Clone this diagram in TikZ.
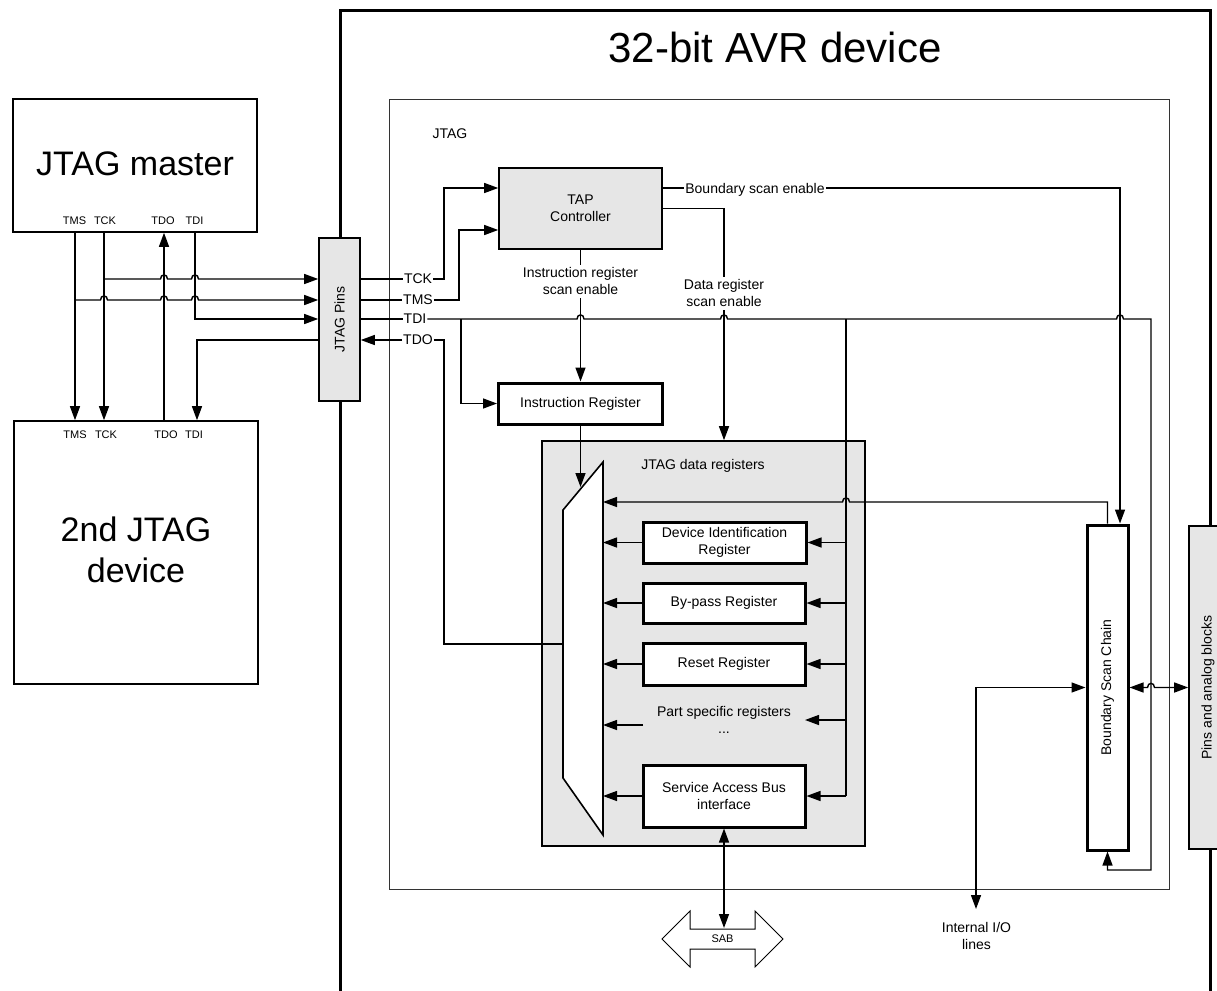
\documentclass[tikz,border=0pt]{standalone}
\usepackage{fontspec}
\setmainfont{Liberation Sans}
\usetikzlibrary{arrows.meta}
\definecolor{boxgray}{RGB}{230,230,230}
\newcommand\jumpR[2]{-- ({#1-3.5},{#2}) .. controls ({#1-3.5},{#2-5.5}) and ({#1+3.5},{#2-5.5}) .. ({#1+3.5},{#2})}
\newcommand\jumpL[2]{-- ({#1+3.5},{#2}) .. controls ({#1+3.5},{#2-5.5}) and ({#1-3.5},{#2-5.5}) .. ({#1-3.5},{#2})}
\tikzset{
  wire/.style={line width=1.4pt},
  arr/.style={wire, -{Triangle[length=14pt,width=10pt]}},
  darr/.style={wire, {Triangle[length=14pt,width=10pt]}-{Triangle[length=14pt,width=10pt]}},
  sz/.style 2 args={minimum width=#1pt, minimum height=#2pt},
  blk/.style={draw, line width=1.6pt, inner sep=0pt},
  gblk/.style={blk, fill=boxgray},
  reg/.style={draw, line width=3pt, fill=white, inner sep=0pt, align=center, font=\fontsize{14}{17}\selectfont},
  t14/.style={font=\fontsize{14}{17}\selectfont, inner sep=1pt},
  t11/.style={font=\fontsize{11}{13}\selectfont, inner sep=1pt},
  t34/.style={font=\fontsize{34}{41}\selectfont},
  t42/.style={font=\fontsize{42}{50}\selectfont},
  inl/.style={t14, text depth=0pt, inner sep=1pt},
}
\begin{document}
\begin{tikzpicture}[x=1pt,y=-1pt]
\path[use as bounding box] (0,0) rectangle (1217,990);
\clip (0,0) rectangle (1217,990);

% outer device
\draw[line width=3pt] (340,1000) -- (340,11) -- (1210,11) -- (1210,1000);
\node[t42, anchor=base] (title) at (775,63) {32-bit AVR device};

% JTAG inner box
\node[draw=black!80, line width=1pt, inner sep=0pt, sz={780}{790}] (jtag) at (779,494) {};
\node[t14, anchor=base] (jtaglbl) at (450,138) {JTAG};

% external devices
\node[blk, sz={244}{133}] (master) at (135,165.5) {};
\node[t34, anchor=base] (mastlbl) at (135,175) {JTAG master};
\node[blk, sz={244}{263}] (dev2) at (136,552.5) {};
\node[t34, align=center] (dev2lbl) at (136,550) {2nd JTAG\\device};

\node[t11, anchor=base] (mTMS) at (74.5,224) {TMS};
\node[t11, anchor=base] (mTCK) at (105,224) {TCK};
\node[t11, anchor=base] (mTDO) at (163,224) {TDO};
\node[t11, anchor=base] (mTDI) at (194.5,224) {TDI};
\node[t11, anchor=base] (dTMS) at (75,438) {TMS};
\node[t11, anchor=base] (dTCK) at (106,438) {TCK};
\node[t11, anchor=base] (dTDO) at (166,438) {TDO};
\node[t11, anchor=base] (dTDI) at (194,438) {TDI};

\coordinate (cTMS) at (75,0);
\coordinate (cTCK) at (104,0);
\coordinate (cTDO) at (164,0);
\coordinate (cTDI) at (195,0);
\coordinate (cTDI2) at (197,0);

% JTAG pins
\node[gblk, sz={41}{163}] (pins) at (339.5,319.5) {};
\node[t14, rotate=90] (pinslbl) at (pins.center) {JTAG Pins};

% TAP and IR
\node[gblk, sz={163}{81}, align=center, font=\fontsize{14}{17}\selectfont] (tap) at (580.5,208.5) {TAP\\Controller};
\node[reg, sz={164}{41}] (ir) at (580.5,403.5) {Instruction Register};

% data registers
\node[gblk, sz={323}{405}] (dr) at (703.5,643.5) {};
\node[t14, anchor=base] (drlbl) at (703,469) {JTAG data registers};
\draw[blk, fill=white] (603,462) -- (563,510) -- (563,778) -- (603,835) -- cycle;
\coordinate (xMux) at (603,0);
\node[reg, sz={163}{41}] (devid) at (724.5,542.5) {Device Identification\\Register};
\node[reg, sz={162}{40}] (bypass) at (724,603) {By-pass Register};
\node[reg, sz={162}{42}] (reset) at (724,664) {Reset Register};
\node[t14, align=center] (partlbl) at (724,720) {Part specific registers\\...};
\node[reg, sz={162}{62}] (sabif) at (724,796) {Service Access Bus\\interface};

% boundary scan and pins
\node[reg, sz={41}{325}] (bsc) at (1107.5,687.5) {};
\node[t14, rotate=90] (bsclbl) at (bsc.center) {Boundary Scan Chain};
\node[gblk, sz={38}{323}] (pinsblk) at (1208,687.5) {};
\node[t14, rotate=90] (pinsblklbl) at (pinsblk.center) {Pins and analog blocks};

% SAB
\draw[line width=1pt, fill=white] (662,939) -- (690,911) -- (690,929) -- (755,929) -- (755,911) -- (783,939) -- (755,967) -- (755,949) -- (690,949) -- (690,967) -- cycle;
\node[t11] (sab) at (722.5,939) {SAB};
\coordinate (sabTop) at (724,928);

\node[t14, align=center] (iol) at (976.5,936) {Internal I/O\\lines};
\coordinate (ioEnd) at (976,909);

% wire labels
\node[inl] (tckl) at (418,279) {TCK};
\node[inl] (tmsl) at (418,300) {TMS};
\node[inl] (tdil) at (415,319) {TDI};
\node[inl] (tdol) at (418,340) {TDO};
\node[inl] (bsel) at (755,188) {Boundary scan enable};
\node[t14, align=center, inner sep=3pt] (irl) at (580.5,281.4) {Instruction register\\scan enable};
\node[t14, align=center, inner sep=3pt] (drsl) at (724,293.4) {Data register\\scan enable};

% left wires
\draw[arr] (master.south -| cTMS) -- (dev2.north -| cTMS);
\draw[arr] (master.south -| cTCK) -- (dev2.north -| cTCK);
\draw[arr] (dev2.north -| cTDO) -- (master.south -| cTDO);
\draw[arr] (master.south -| cTDI) |- (pins.west |- tdil);
\draw[arr] (cTCK |- tckl) \jumpR{164}{279} \jumpR{195}{279} -- (pins.west |- tckl);
\draw[arr] (cTMS |- tmsl) \jumpR{104}{300} \jumpR{164}{300} \jumpR{195}{300} -- (pins.west |- tmsl);
\draw[arr] (pins.west |- tdol) -| (dev2.north -| cTDI2);

% right wires
\draw[wire] (pins.east |- tckl) -- (tckl.west);
\draw[arr] (tckl.east) -- (444,279) -- (444,188) -- ([yshift=20.5pt]tap.west);
\draw[wire] (pins.east |- tmsl) -- (tmsl.west);
\draw[arr] (tmsl.east) -- (459,300) -- (459,230) -- ([yshift=-21.5pt]tap.west);
\draw[wire] (pins.east |- tdil) -- (tdil.west);
\draw[arr] (tdil.east) \jumpR{580.5}{319} \jumpR{724}{319} \jumpR{1120}{319} -- (1151,319) -- (1151,870) -- (1107.5,870) -- (bsc.south);
\draw[arr] (461,319) |- (ir.west);
\draw[wire] (846,319) -- (846,796);
\coordinate (xDR) at (846,0);
\draw[arr] (devid.east -| xDR) -- (devid.east);
\draw[arr] (bypass.east -| xDR) -- (bypass.east);
\draw[arr] (reset.east -| xDR) -- (reset.east);
\draw[arr] (sabif.east -| xDR) -- (sabif.east);
\coordinate (partR) at (805,720);
\coordinate (partL) at (643,725);
\draw[arr] (partR -| xDR) -- (partR);
\draw[arr] (partL) -- (partL -| xMux);
\draw[arr] (devid.west) -- (devid.west -| xMux);
\draw[arr] (bypass.west) -- (bypass.west -| xMux);
\draw[arr] (reset.west) -- (reset.west -| xMux);
\draw[arr] (sabif.west) -- (sabif.west -| xMux);

\draw[arr] (tdol.west) -- (pins.east |- tdol);
\coordinate (muxTDO) at (563,644);
\draw[wire] (tdol.east) -- (444,340) -- (444,644) -- (muxTDO);

\draw[wire] ([yshift=20.5pt]tap.east) -- (bsel.west);
\draw[arr] (bsel.east) -- (1120,188) -- ([xshift=12.5pt]bsc.north);
\draw[wire] (tap.east) -- (724,208.5) -- (drsl.north);
\draw[arr] (drsl.south) -- (drsl.south |- dr.north);
\draw[wire] (tap.south) -- (irl.north);
\draw[arr] (irl.south) -- (ir.north);
\coordinate (muxIR) at (580.5,487);
\draw[arr] (ir.south) -- (muxIR);
\coordinate (feed) at (603,502);
\draw[arr] (bsc.north) -- (1107.5,502) \jumpL{846}{502} -- (feed);

\draw[darr] (sabif.south) -- (sabTop);
\draw[darr] (bsc.east) \jumpR{1151}{687.5} -- (pinsblk.west);
\draw[darr] (ioEnd) |- (bsc.west);
\end{tikzpicture}
\end{document}
